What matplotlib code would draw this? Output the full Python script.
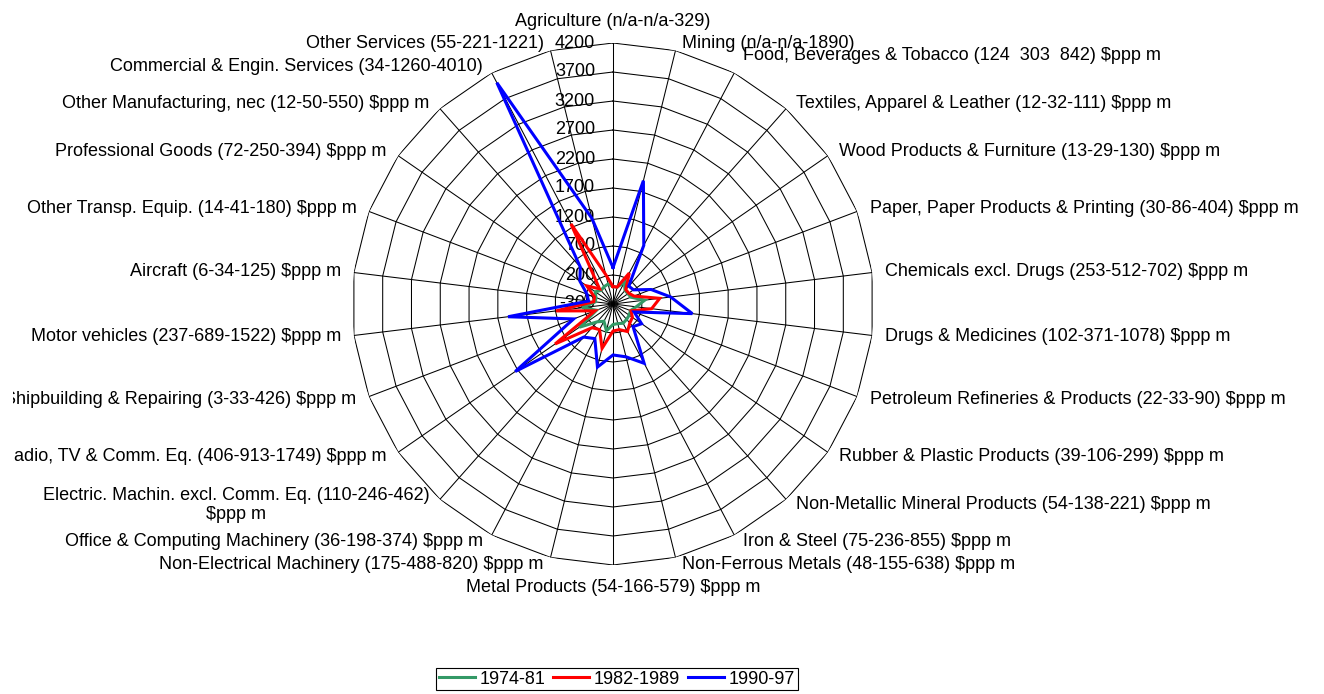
import numpy as np
import matplotlib
matplotlib.use("Agg")
import matplotlib.pyplot as plt
from matplotlib.transforms import Bbox, TransformedBbox

plt.rcParams["font.family"] = ["Liberation Sans", "DejaVu Sans"]
plt.rcParams["font.size"] = 13

# Industry categories, clockwise from the top
categories = [
    "Agriculture (n/a-n/a-329)",
    "Mining (n/a-n/a-1890)",
    "Food, Beverages & Tobacco (124  303  842) $ppp m",
    "Textiles, Apparel & Leather (12-32-111) $ppp m",
    "Wood Products & Furniture (13-29-130) $ppp m",
    "Paper, Paper Products & Printing (30-86-404) $ppp m",
    "Chemicals excl. Drugs (253-512-702) $ppp m",
    "Drugs & Medicines (102-371-1078) $ppp m",
    "Petroleum Refineries & Products (22-33-90) $ppp m",
    "Rubber & Plastic Products (39-106-299) $ppp m",
    "Non-Metallic Mineral Products (54-138-221) $ppp m",
    "Iron & Steel (75-236-855) $ppp m",
    "Non-Ferrous Metals (48-155-638) $ppp m",
    "Metal Products (54-166-579) $ppp m",
    "Non-Electrical Machinery (175-488-820) $ppp m",
    "Office & Computing Machinery (36-198-374) $ppp m",
    "Electric. Machin. excl. Comm. Eq. (110-246-462)\n$ppp m",
    "Radio, TV & Comm. Eq. (406-913-1749) $ppp m",
    "Shipbuilding & Repairing (3-33-426) $ppp m",
    "Motor vehicles (237-689-1522) $ppp m",
    "Aircraft (6-34-125) $ppp m",
    "Other Transp. Equip. (14-41-180) $ppp m",
    "Professional Goods (72-250-394) $ppp m",
    "Other Manufacturing, nec (12-50-550) $ppp m",
    "Commercial & Engin. Services (34-1260-4010)",
    "Other Services (55-221-1221)",
]

periods = ["1974-81", "1982-1989", "1990-97"]
colors = ["#339966", "#FF0000", "#0000FF"]

# None = n/a (plotted at zero)
vals_1974_81 = [None, None, 124, 12, 13, 30, 253, 102, 22, 39, 54, 75, 48,
                54, 175, 36, 110, 406, 3, 237, 6, 14, 72, 12, 34, 55]
vals_1982_89 = [None, None, 303, 32, 29, 86, 512, 371, 33, 106, 138, 236, 155,
                166, 488, 198, 246, 913, 33, 689, 34, 41, 250, 50, 1260, 221]
vals_1990_97 = [329, 1890, 842, 111, 130, 404, 702, 1078, 90, 299, 221, 855, 638,
                579, 820, 374, 462, 1749, 426, 1522, 125, 180, 394, 550, 4010, 1221]

r_ticks = [-300, 200, 700, 1200, 1700, 2200, 2700, 3200, 3700, 4200]
r_min, r_max = r_ticks[0], r_ticks[-1]

W, H = 1324, 694
fig = plt.figure(figsize=(W / 100, H / 100), dpi=100)
cx, cy, rad = 613, 390, 261
ax = fig.add_axes([(cx - rad) / W, (cy - rad) / H, 2 * rad / W, 2 * rad / H],
                  projection="polar")
ax.set_theta_zero_location("N")
ax.set_theta_direction(-1)
ax.set_ylim(r_min, r_max)
ax.axis("off")

n = len(categories)
theta = np.arange(n) * 2 * np.pi / n
theta_closed = np.append(theta, theta[0])

# polygon rings and spokes
for lvl in r_ticks[1:]:
    ax.plot(theta_closed, [lvl] * (n + 1), color="black", lw=0.75, zorder=2)
for t in theta:
    ax.plot([t, t], [r_min, r_max], color="black", lw=0.75, zorder=2)

# radial tick labels along the top spoke
for lvl in r_ticks:
    ax.annotate(str(lvl), xy=(0, lvl), xytext=(-18, 0), textcoords="offset pixels",
                ha="right", va="center", zorder=1, annotation_clip=False)

# series
for name, vals, col in zip(periods, [vals_1974_81, vals_1982_89, vals_1990_97], colors):
    v = np.array([0 if x is None else x for x in vals], dtype=float)
    ax.plot(theta_closed, np.append(v, v[0]), color=col, lw=2.2, label=name,
            zorder=3, solid_joinstyle="miter")

# category labels outside the outer ring, cut off at the chart-area edge
chart_area = TransformedBbox(Bbox([[13 / W, 0], [1, 1]]), fig.transFigure)
nudge = {categories[2]: 11}
for t, name in zip(theta, categories):
    s, c = np.sin(t), np.cos(t)
    if abs(s) < 0.1:
        ha, dx, dy = "center", 0, (22 if c > 0 else -22)
    else:
        ha = "left" if s > 0 else "right"
        dx = np.sign(s) * (5 + 8 * abs(s))
        dy = 7 * c
    dy += nudge.get(name, 0)
    lab = ax.annotate(name, xy=(t, r_max), xytext=(dx, dy), textcoords="offset pixels",
                      ha=ha, va="center", multialignment="center", linespacing=1.15,
                      annotation_clip=False)
    lab.set_clip_box(chart_area)
    lab.set_clip_on(True)

leg = fig.legend(loc="center", bbox_to_anchor=(617 / W, 1 - 679 / H), ncol=3,
                 frameon=True, fancybox=False, edgecolor="black", framealpha=1,
                 handlelength=2.0, handletextpad=0.25, columnspacing=0.45,
                 borderpad=0.15, borderaxespad=0)
leg.get_frame().set_linewidth(0.8)

fig.savefig("out.png", dpi=100)
